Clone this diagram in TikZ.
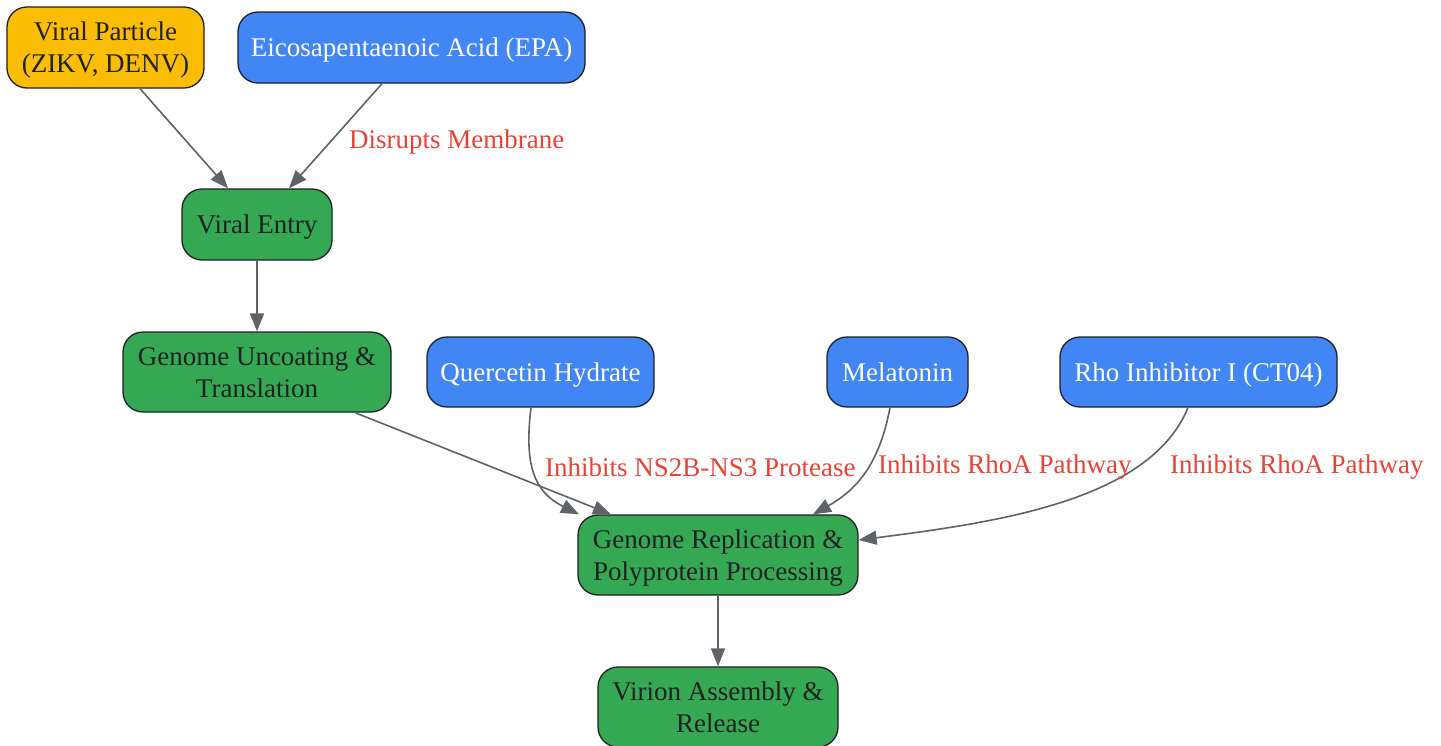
\documentclass[tikz,border=0pt]{standalone}
\usepackage{fontspec}
\setmainfont{Liberation Serif}
\usetikzlibrary{arrows.meta}
\definecolor{gGreen}{HTML}{34A853}
\definecolor{gBlue}{HTML}{4285F4}
\definecolor{gYellow}{HTML}{FBBC04}
\definecolor{gDark}{HTML}{202124}
\definecolor{gGray}{HTML}{5F6368}
\definecolor{gRed}{HTML}{EA4335}
\newcommand{\nodetxt}[1]{\raisebox{-3pt}[\height][\depth]{\begin{tabular}{@{}c@{}}#1\end{tabular}}}
\tikzset{
  box/.style={draw=gDark, line width=1.3pt, rounded corners=20pt, align=center,
    inner sep=0pt, font=\fontsize{27}{32}\selectfont},
  greenbox/.style={box, fill=gGreen, text=gDark},
  bluebox/.style={box, fill=gBlue, text=white},
  yellowbox/.style={box, fill=gYellow, text=gDark},
  conn/.style={draw=gGray, line width=1.6pt, -{Triangle[length=18pt,width=14pt]}},
  lbl/.style={text=gRed, inner sep=0pt, anchor=west, font=\fontsize{27}{32}\selectfont}
}
\begin{document}
\begin{tikzpicture}[x=1pt,y=-1pt]
\useasboundingbox (0,0) rectangle (1441,745);
\node[yellowbox, minimum width=197pt, minimum height=81pt] (vp) at (105.5,47.5) {\nodetxt{Viral Particle\\(ZIKV, DENV)}};
\node[bluebox, minimum width=347pt, minimum height=71pt] (epa) at (411.5,47.5) {\nodetxt{Eicosapentaenoic Acid (EPA)}};
\node[greenbox, minimum width=150pt, minimum height=71pt] (ve) at (257,224.5) {\nodetxt{Viral Entry}};
\node[greenbox, minimum width=268pt, minimum height=80pt] (gu) at (257,372) {\nodetxt{Genome Uncoating \&\\Translation}};
\node[bluebox, minimum width=227pt, minimum height=70pt] (qh) at (540.5,372) {\nodetxt{Quercetin Hydrate}};
\node[bluebox, minimum width=141pt, minimum height=70pt] (mel) at (897.5,372) {\nodetxt{Melatonin}};
\node[bluebox, minimum width=277pt, minimum height=70pt] (rho) at (1198.5,372) {\nodetxt{Rho Inhibitor I (CT04)}};
\node[greenbox, minimum width=280pt, minimum height=80pt] (gr) at (718,555) {\nodetxt{Genome Replication \&\\Polyprotein Processing}};
\node[greenbox, minimum width=240pt, minimum height=80pt] (va) at (718,707) {\nodetxt{Virion Assembly \&\\Release}};

\draw[conn] ([xshift=34.5pt]vp.south) -- ([xshift=-29pt]ve.north);
\draw[conn] ([xshift=-29.5pt]epa.south) -- ([xshift=32pt]ve.north);
\draw[conn] (ve.south) -- (gu.north);
\draw[conn] ([xshift=98pt]gu.south) -- ([xshift=-107pt]gr.north);
\draw[conn] ([xshift=-9.5pt]qh.south) .. controls (524,465) and (534,492) .. ([xshift=-139pt]gr.north);
\draw[conn] ([xshift=-7.5pt]mel.south) .. controls (880,460) and (860,488) .. ([xshift=95pt]gr.north);
\draw[conn] ([xshift=-10.5pt]rho.south) .. controls (1150,500) and (1000,522) .. ([yshift=15pt]gr.east);
\draw[conn] (gr.south) -- (va.north);

\node[lbl] (l1) at (349,142) {Disrupts Membrane};
\node[lbl] (l2) at (545,467) {Inhibits NS2B-NS3 Protease};
\node[lbl] (l3) at (878,467) {Inhibits RhoA Pathway};
\node[lbl] (l4) at (1170,467) {Inhibits RhoA Pathway};
\end{tikzpicture}
\end{document}
